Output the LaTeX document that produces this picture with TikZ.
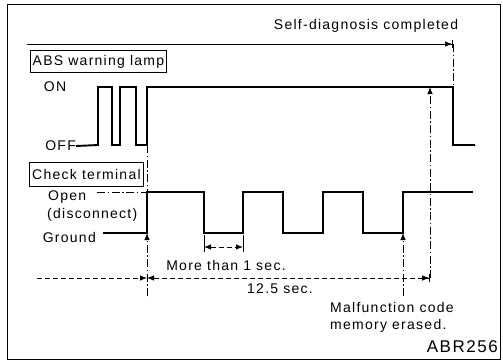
\documentclass[tikz,border=0pt]{standalone}
\usepackage{fontspec}
\setmainfont{Liberation Sans}[LetterSpace=9]
\usetikzlibrary{arrows.meta}
\tikzset{ptr/.tip={Latex[length=7pt,width=5.5pt]}}

\begin{document}
\begin{tikzpicture}[x=1pt,y=-1pt,
    sig/.style={line width=1.9pt,line join=miter},
    dimln/.style={line width=0.8pt,dash pattern=on 5pt off 3pt},
    guide/.style={line width=0.8pt,dash pattern=on 8pt off 2.5pt on 1.5pt off 2.5pt},
    lbl/.style={font=\fontsize{14}{16}\selectfont,inner sep=0pt},
    tagbox/.style={draw,line width=0.9pt,font=\fontsize{14}{16}\selectfont,
                   inner sep=1pt,anchor=north west}
  ]
    \useasboundingbox (0,0) rectangle (503,360);
    \draw[line width=0.9pt] (7,4) rectangle (500,359);

    % time marks
    \coordinate (diagS) at (27,44);
    \coordinate (diagE) at (453,44);
    \coordinate (lampOn) at (453,87);
    \coordinate (startT) at (147,278);
    \coordinate (dimS) at (37,278);
    \coordinate (endT) at (430,278);
    \coordinate (endTop) at (430,87);
    \coordinate (eraseB) at (403,296);
    \coordinate (eraseT) at (403,233);
    \coordinate (gndB) at (147,296);
    \coordinate (gndT) at (147,233);
    \coordinate (offT) at (147,145);
    \coordinate (openT) at (147,192);
    \coordinate (lowA) at (204,247);
    \coordinate (lowB) at (243,247);

    \node[lbl] (done) at (366,26) {Self-diagnosis completed};
    \draw[line width=0.9pt,-{ptr[]Bar[width=8pt]}] (diagS) -- (diagE);
    \draw[guide] (diagE) -- (lampOn);

    % ABS warning lamp
    \node[tagbox,minimum width=136pt,minimum height=22pt] (lamp) at (30,50) {ABS warning lamp};
    \node[lbl] (on) at (55,87) {ON};
    \node[lbl,anchor=east] (off) at (76,146) {OFF};
    \draw[sig] (off.east) -- (98,145) -- (98,87) -- (112,87) -- (112,145) -- (120,145)
      -- (120,87) -- (136,87) -- (136,145) -- (147,145) -- (147,87) -- (453,87)
      -- (453,145) -- (475,145);

    % check terminal
    \node[tagbox,minimum width=114pt,minimum height=24pt] (chk) at (29,162) {Check terminal};
    \node[lbl,anchor=west] (open) at (48,197) {Open};
    \node[lbl,anchor=west] (disc) at (47,215) {(disconnect)};
    \node[lbl,anchor=east] (gnd) at (96,237) {Ground};
    \draw[guide] (97,192) -- (openT);
    \draw[sig] (103,233) -- (147,233) -- (147,192) -- (204,192) -- (204,233) -- (243,233)
      -- (243,192) -- (283,192) -- (283,233) -- (323,233) -- (323,192) -- (363,192)
      -- (363,233) -- (403,233) -- (403,192) -- (473,192);

    % guides and timing
    \draw[guide] (offT) -- (openT);
    \draw[guide,-ptr] (gndB) -- (gndT);
    \draw[guide,-ptr] (endT) -- (endTop);
    \draw[guide,-ptr] (eraseB) -- (eraseT);
    \draw[line width=0.8pt] (204,235) -- (204,252) (243,235) -- (243,252);
    \draw[dimln,ptr-ptr] (lowA) -- (lowB);
    \node[lbl] (more) at (226,265) {More than 1 sec.};
    \draw[dimln,-ptr] (dimS) -- (startT);
    \draw[dimln,ptr-{ptr[]Bar[width=8pt]}] (startT) -- (endT);
    \node[lbl] (total) at (280,289) {12.5 sec.};
    \node[lbl,anchor=west] (mal) at (330,307) {Malfunction code};
    \node[lbl,anchor=west] (mem) at (330,326) {memory erased.};
    \node[lbl,anchor=east,font=\fontsize{17}{19}\selectfont] (fig) at (498,347) {ABR256};
\end{tikzpicture}
\end{document}
